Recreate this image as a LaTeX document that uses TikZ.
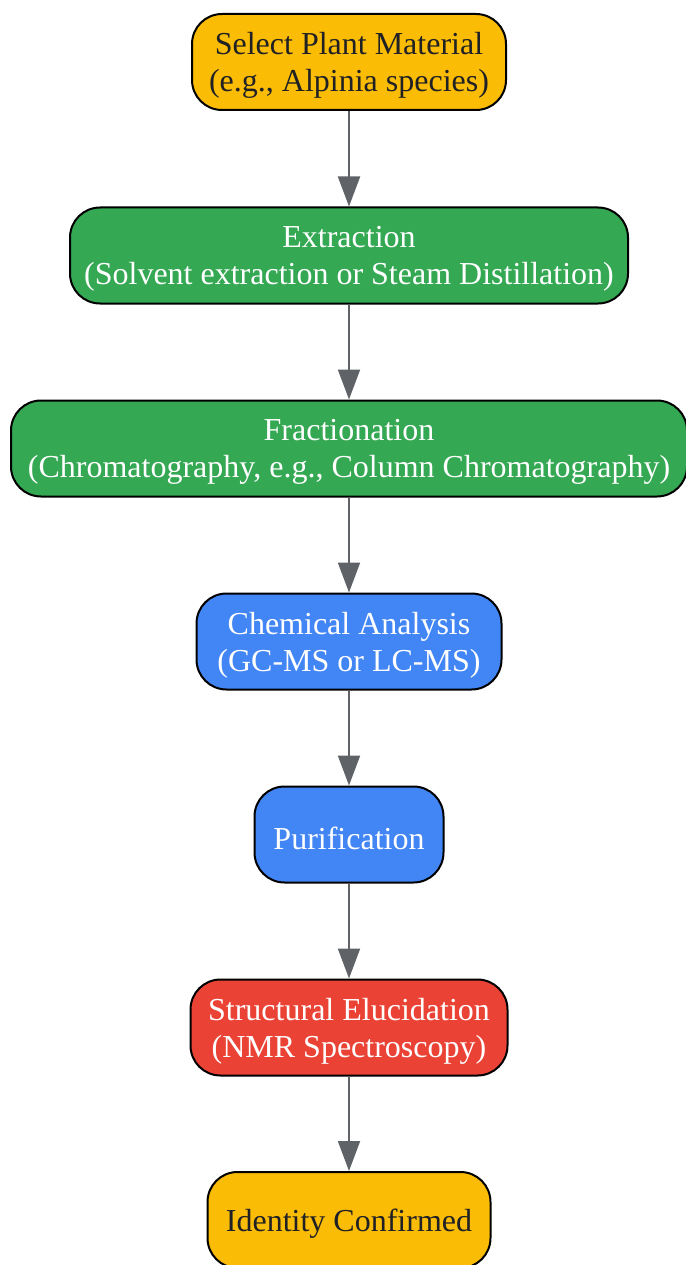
\documentclass[tikz,border=0pt]{standalone}
\usepackage{fontspec}
\setmainfont{Liberation Serif}
\usetikzlibrary{arrows.meta}
\definecolor{gyellow}{HTML}{FBBC05}
\definecolor{ggreen}{HTML}{34A853}
\definecolor{gblue}{HTML}{4285F4}
\definecolor{gred}{HTML}{EA4335}
\definecolor{gtext}{HTML}{202124}
\definecolor{garrow}{HTML}{5F6368}
\begin{document}
\begin{tikzpicture}[x=1pt,y=-1pt,
  box/.style={draw=black, line width=2pt, rounded corners=30pt, inner sep=0pt, minimum height=96pt},
  lbl/.style={align=center, font=\fontsize{32}{37}\selectfont, inner sep=0pt, yshift=-3.5pt},
  yel/.style={box, fill=gyellow, label={[lbl, text=gtext]center:{#1}}},
  grn/.style={box, fill=ggreen, label={[lbl, text=white]center:{#1}}},
  blu/.style={box, fill=gblue, label={[lbl, text=white]center:{#1}}},
  rd/.style={box, fill=gred, label={[lbl, text=white]center:{#1}}},
  conn/.style={draw=garrow, line width=2pt, -{Triangle[length=30pt,width=22pt,fill=garrow]}}
]
\useasboundingbox (0,0) rectangle (685,1265);
\node[yel={Select Plant Material\\(e.g., Alpinia species)}, minimum width=314pt] (n1) at (349,62) {};
\node[grn={Extraction\\(Solvent extraction or Steam Distillation)}, minimum width=558pt] (n2) at (349,255.5) {};
\node[grn={Fractionation\\(Chromatography, e.g., Column Chromatography)}, minimum width=676pt] (n3) at (349,448.5) {};
\node[blu={Chemical Analysis\\(GC-MS or LC-MS)}, minimum width=305pt] (n4) at (349,641.5) {};
\node[blu={Purification}, minimum width=189pt] (n5) at (349,834.5) {};
\node[rd={Structural Elucidation\\(NMR Spectroscopy)}, minimum width=317pt] (n6) at (349,1027.5) {};
\node[yel={Identity Confirmed}, minimum width=283pt] (n7) at (349,1220) {};
\draw[conn] (n1) -- (n2);
\draw[conn] (n2) -- (n3);
\draw[conn] (n3) -- (n4);
\draw[conn] (n4) -- (n5);
\draw[conn] (n5) -- (n6);
\draw[conn] (n6) -- (n7);
\end{tikzpicture}
\end{document}
